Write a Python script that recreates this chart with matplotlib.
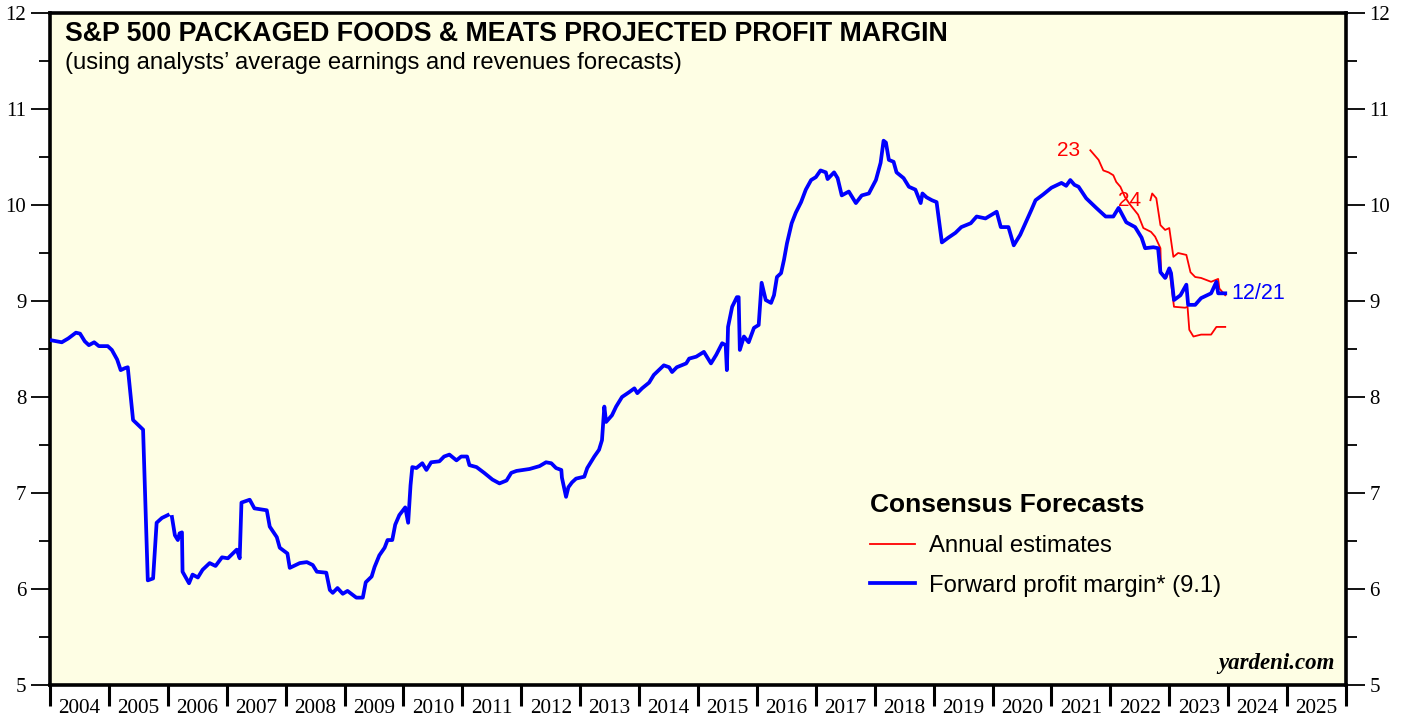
import numpy as np
import matplotlib
matplotlib.use("Agg")
import matplotlib.pyplot as plt
from matplotlib.ticker import MultipleLocator, FixedLocator, NullFormatter, FixedFormatter
from matplotlib.lines import Line2D

# ---- data: (decimal year, forward profit margin %) ----
fwd_points = [
    (2004.03, 8.59), (2004.20, 8.57), (2004.31, 8.61), (2004.44, 8.67), (2004.51, 8.66),
    (2004.59, 8.58), (2004.66, 8.54), (2004.75, 8.57), (2004.83, 8.53), (2004.98, 8.53),
    (2005.05, 8.49), (2005.14, 8.39), (2005.20, 8.28), (2005.27, 8.30), (2005.32, 8.31),
    (2005.41, 7.76), (2005.58, 7.66), (2005.66, 6.09), (2005.75, 6.11), (2005.81, 6.69),
    (2005.90, 6.74), (2006.00, 6.77), (2006.03, np.nan), (2006.07, 6.75), (2006.12, 6.56),
    (2006.17, 6.51), (2006.20, 6.58), (2006.24, 6.59), (2006.25, 6.18), (2006.36, 6.06),
    (2006.42, 6.15), (2006.51, 6.12), (2006.59, 6.20), (2006.71, 6.27), (2006.81, 6.24),
    (2006.92, 6.33), (2007.02, 6.32), (2007.17, 6.41), (2007.22, 6.32), (2007.25, 6.90),
    (2007.39, 6.93), (2007.47, 6.84), (2007.68, 6.82), (2007.73, 6.65), (2007.85, 6.54),
    (2007.90, 6.43), (2008.03, 6.37), (2008.07, 6.22), (2008.24, 6.27), (2008.36, 6.28),
    (2008.46, 6.25), (2008.53, 6.18), (2008.69, 6.17), (2008.75, 5.99), (2008.80, 5.96),
    (2008.88, 6.01), (2008.97, 5.95), (2009.05, 5.98), (2009.20, 5.91), (2009.31, 5.91),
    (2009.36, 6.07), (2009.46, 6.13), (2009.51, 6.23), (2009.59, 6.35), (2009.68, 6.43),
    (2009.73, 6.51), (2009.81, 6.51), (2009.86, 6.67), (2009.93, 6.77), (2010.03, 6.85),
    (2010.08, 6.69), (2010.12, 7.08), (2010.15, 7.27), (2010.22, 7.26), (2010.32, 7.31),
    (2010.39, 7.24), (2010.47, 7.32), (2010.61, 7.33), (2010.69, 7.38), (2010.78, 7.40),
    (2010.90, 7.34), (2010.98, 7.38), (2011.08, 7.38), (2011.12, 7.29), (2011.24, 7.27),
    (2011.37, 7.21), (2011.51, 7.14), (2011.63, 7.10), (2011.75, 7.13), (2011.83, 7.21),
    (2011.92, 7.23), (2012.14, 7.25), (2012.31, 7.28), (2012.42, 7.32), (2012.51, 7.31),
    (2012.59, 7.26), (2012.68, 7.24), (2012.69, 7.16), (2012.76, 6.96), (2012.80, 7.06),
    (2012.86, 7.11), (2012.93, 7.15), (2013.07, 7.17), (2013.12, 7.26), (2013.24, 7.38),
    (2013.32, 7.45), (2013.37, 7.55), (2013.41, 7.90), (2013.44, 7.74), (2013.54, 7.81),
    (2013.61, 7.90), (2013.71, 8.00), (2013.83, 8.05), (2013.92, 8.09), (2013.97, 8.04),
    (2014.05, 8.09), (2014.17, 8.15), (2014.25, 8.23), (2014.42, 8.33), (2014.51, 8.31),
    (2014.56, 8.26), (2014.64, 8.31), (2014.80, 8.35), (2014.85, 8.40), (2014.97, 8.42),
    (2015.10, 8.47), (2015.22, 8.35), (2015.31, 8.44), (2015.41, 8.56), (2015.47, 8.54),
    (2015.49, 8.28), (2015.51, 8.73), (2015.58, 8.94), (2015.66, 9.04), (2015.69, 9.04),
    (2015.71, 8.49), (2015.78, 8.63), (2015.86, 8.57), (2015.95, 8.72), (2016.03, 8.75),
    (2016.08, 9.19), (2016.15, 9.01), (2016.24, 8.98), (2016.29, 9.06), (2016.34, 9.25),
    (2016.41, 9.29), (2016.46, 9.43), (2016.51, 9.60), (2016.59, 9.81), (2016.66, 9.92),
    (2016.75, 10.03), (2016.83, 10.16), (2016.92, 10.26), (2017.00, 10.29), (2017.08, 10.36),
    (2017.17, 10.34), (2017.20, 10.27), (2017.31, 10.34), (2017.37, 10.28), (2017.44, 10.10),
    (2017.56, 10.14), (2017.68, 10.02), (2017.78, 10.10), (2017.90, 10.12), (2018.02, 10.26),
    (2018.10, 10.44), (2018.15, 10.67), (2018.19, 10.65), (2018.24, 10.47), (2018.32, 10.45),
    (2018.37, 10.34), (2018.49, 10.28), (2018.58, 10.19), (2018.69, 10.16), (2018.78, 10.02),
    (2018.81, 10.12), (2018.88, 10.08), (2018.97, 10.05), (2019.05, 10.03), (2019.14, 9.61),
    (2019.25, 9.66), (2019.37, 9.71), (2019.47, 9.77), (2019.63, 9.81), (2019.73, 9.88),
    (2019.88, 9.86), (2020.07, 9.93), (2020.14, 9.77), (2020.27, 9.77), (2020.36, 9.58),
    (2020.47, 9.69), (2020.58, 9.84), (2020.66, 9.95), (2020.73, 10.05), (2020.86, 10.11),
    (2021.00, 10.18), (2021.17, 10.23), (2021.25, 10.20), (2021.32, 10.26), (2021.39, 10.21),
    (2021.46, 10.19), (2021.59, 10.07), (2021.76, 9.97), (2021.92, 9.88), (2022.05, 9.88),
    (2022.14, 9.97), (2022.27, 9.82), (2022.42, 9.77), (2022.53, 9.66), (2022.59, 9.55),
    (2022.73, 9.56), (2022.81, 9.55), (2022.85, 9.30), (2022.93, 9.24), (2023.00, 9.34),
    (2023.03, 9.29), (2023.08, 9.01), (2023.19, 9.06), (2023.29, 9.17), (2023.32, 8.96),
    (2023.44, 8.96), (2023.54, 9.03), (2023.71, 9.08), (2023.80, 9.20), (2023.83, 9.08),
    (2023.95, 9.08),
]

est23_points = [
    (2021.66, 10.57), (2021.80, 10.47), (2021.88, 10.36), (2021.97, 10.34), (2022.05, 10.31),
    (2022.10, 10.24), (2022.17, 10.19), (2022.25, 10.08), (2022.34, 10.00), (2022.47, 9.90),
    (2022.56, 9.76), (2022.69, 9.72), (2022.76, 9.67), (2022.85, 9.55), (2022.86, 9.30),
    (2022.95, 9.24), (2023.00, 9.34), (2023.08, 8.94), (2023.27, 8.93), (2023.31, 8.94),
    (2023.34, 8.70), (2023.41, 8.63), (2023.54, 8.65), (2023.71, 8.65), (2023.80, 8.73),
    (2023.95, 8.73),
]

est24_points = [
    (2022.68, 10.05), (2022.71, 10.12), (2022.78, 10.07), (2022.85, 9.79), (2022.93, 9.74),
    (2023.00, 9.76), (2023.07, 9.46), (2023.15, 9.50), (2023.29, 9.48), (2023.36, 9.30),
    (2023.44, 9.25), (2023.54, 9.24), (2023.71, 9.20), (2023.83, 9.23), (2023.85, 9.13),
    (2023.95, 9.06),
]

year_labels = [str(y) for y in range(2004, 2026)]
last_value = 9.1
last_date_label = "12/21"

fwd_dates, fwd_margin = zip(*fwd_points)
est23_dates, est23_margin = zip(*est23_points)
est24_dates, est24_margin = zip(*est24_points)

# ---- figure ----
BG = "#fefee4"
SERIF = "Liberation Serif"
SANS = "Liberation Sans"
fig = plt.figure(figsize=(14.05, 7.17), dpi=100)
ax = fig.add_axes([50 / 1405, 1 - 685 / 717, 1296 / 1405, 672 / 717])
ax.set_facecolor(BG)

ax.plot(est23_dates, est23_margin, color="#ff0000", lw=1.3, zorder=3)
ax.plot(est24_dates, est24_margin, color="#ff0000", lw=1.3, zorder=3)
ax.plot(fwd_dates, fwd_margin, color="#0000ff", lw=2.7, zorder=4)

ax.set_xlim(2004, 2026)
ax.set_ylim(5, 12)

# y axis: both sides
ax.yaxis.set_major_locator(MultipleLocator(1))
ax.yaxis.set_minor_locator(MultipleLocator(0.5))
ax.tick_params(axis="y", which="major", direction="out", length=14, width=1.3,
               left=True, right=True, labelleft=True, labelright=True, labelsize=15, pad=3)
ax.tick_params(axis="y", which="minor", direction="out", length=8, width=1.3,
               left=True, right=True)

# x axis: ticks at year boundaries, labels at mid-year
ax.xaxis.set_major_locator(FixedLocator(np.arange(2004, 2027)))
ax.xaxis.set_major_formatter(NullFormatter())
ax.xaxis.set_minor_locator(FixedLocator(np.arange(2004, 2026) + 0.5))
ax.xaxis.set_minor_formatter(FixedFormatter(year_labels))
ax.tick_params(axis="x", which="major", direction="out", length=15, width=2.2)
ax.tick_params(axis="x", which="minor", length=0, labelsize=15.3, pad=10)

for t in ax.xaxis.get_minor_ticks():
    t.label1.set_fontfamily(SERIF)
for t in ax.yaxis.get_major_ticks():
    t.label1.set_fontfamily(SERIF)
    t.label2.set_fontfamily(SERIF)

for s in ax.spines.values():
    s.set_linewidth(2.6)

# titles
fig.text(65 / 1405, 1 - 34 / 717, "S&P 500 PACKAGED FOODS & MEATS PROJECTED PROFIT MARGIN",
         fontsize=19.3, fontweight="bold", family=SANS, va="center", ha="left")
fig.text(65 / 1405, 1 - 63 / 717, "(using analysts\u2019 average earnings and revenues forecasts)",
         fontsize=17.2, family=SANS, va="center", ha="left")

# annotations
ax.annotate("23", xy=(est23_dates[0], est23_margin[0]), xytext=(-7, 0), textcoords="offset points",
            color="#ff0000", fontsize=15, family=SANS, ha="right", va="center")
ax.annotate("24", xy=(est24_dates[0], est24_margin[0]), xytext=(-7, 0), textcoords="offset points",
            color="#ff0000", fontsize=15, family=SANS, ha="right", va="center")
ax.annotate(last_date_label, xy=(fwd_dates[-1], fwd_margin[-1]), xytext=(4.5, 0), textcoords="offset points",
            color="#0000ff", fontsize=15.5, family=SANS, ha="left", va="center")

ax.text(0.991, 0.016, "yardeni.com", transform=ax.transAxes, ha="right", va="bottom",
        fontsize=16.5, fontweight="bold", style="italic", family=SERIF)

# legend
handles = [Line2D([], [], color="#ff0000", lw=1.3),
           Line2D([], [], color="#0000ff", lw=2.7)]
labels = ["Annual estimates", f"Forward profit margin* ({last_value})"]
leg = ax.legend(handles, labels, loc="upper left", bbox_to_anchor=(820 / 1296, 1 - (493 - 13) / 672),
                frameon=False, prop={"family": SANS, "size": 17.2},
                title="Consensus Forecasts",
                title_fontproperties={"family": SANS, "size": 19, "weight": "bold"},
                handlelength=1.9, handletextpad=0.55, labelspacing=0.75, borderpad=0,
                borderaxespad=0)
leg._legend_box.align = "left"

fig.savefig("out.png", dpi=100, facecolor="white")
